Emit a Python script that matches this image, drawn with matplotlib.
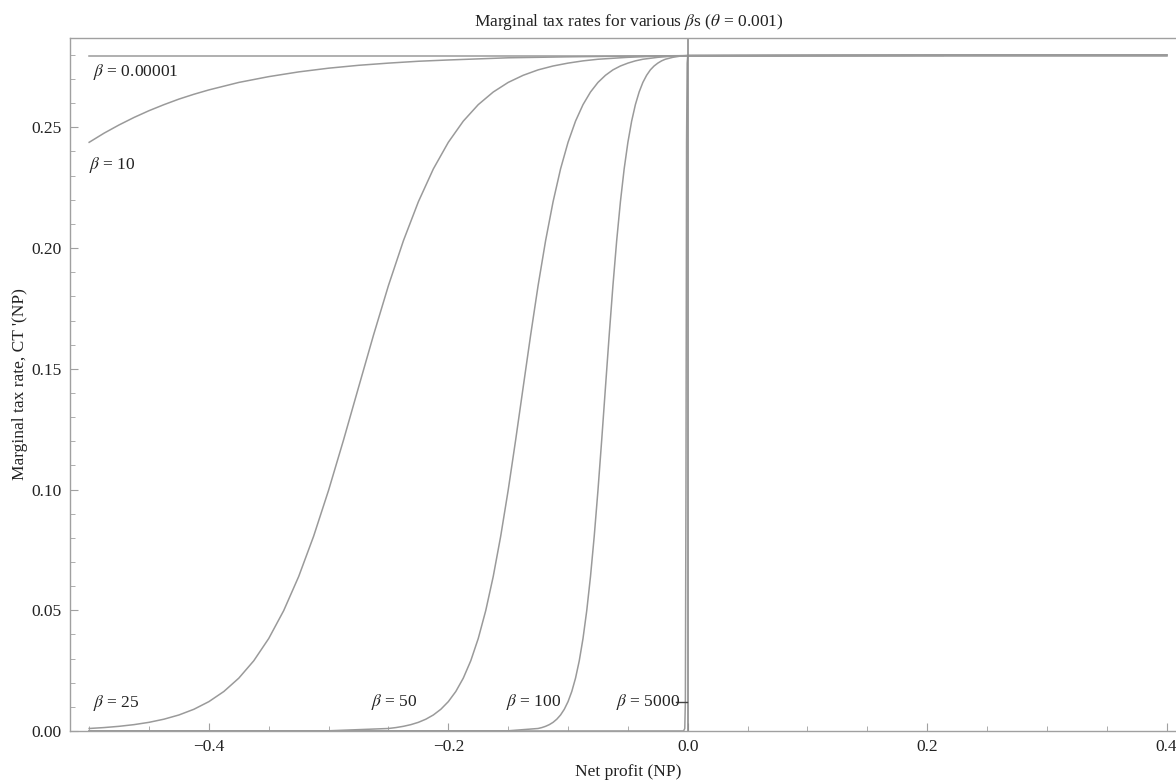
import matplotlib
matplotlib.use("Agg")
import matplotlib.pyplot as plt
from matplotlib.ticker import MultipleLocator, FuncFormatter

plt.rcParams['font.family'] = ['Liberation Serif', 'DejaVu Serif']
plt.rcParams['mathtext.fontset'] = 'stix'

# ---- data ----
labels = [r'$\beta$ = 0.00001', r'$\beta$ = 10', r'$\beta$ = 25',
          r'$\beta$ = 50', r'$\beta$ = 100', r'$\beta$ = 5000']

x_b00001 = [-0.5, 0.4]
y_b00001 = [0.2797, 0.2797]

x_b10 = [-0.5, -0.4875, -0.475, -0.4625, -0.45, -0.4375, -0.425, -0.4125, -0.4, -0.375, -0.35,
         -0.325, -0.3, -0.275, -0.25, -0.225, -0.2, -0.15, -0.1, -0.05, 0.0, 0.4]
y_b10 = [0.2438, 0.2476, 0.2510, 0.2541, 0.2569, 0.2594, 0.2617, 0.2637, 0.2655, 0.2686, 0.2710,
         0.27296, 0.2745, 0.27569, 0.2766, 0.27737, 0.2779, 0.2788, 0.2792, 0.2795, 0.2797, 0.2800]

x_b25 = [-0.5, -0.4875, -0.475, -0.4625, -0.45, -0.4375, -0.425, -0.4125, -0.4, -0.3875,
         -0.375, -0.3625, -0.35, -0.3375, -0.325, -0.3125, -0.3, -0.2875, -0.275, -0.2625,
         -0.25, -0.2375, -0.225, -0.2125, -0.2, -0.1875, -0.175, -0.1625, -0.15, -0.1375,
         -0.125, -0.1125, -0.1, -0.0875, -0.075, -0.05, -0.025, 0.0, 0.4]
y_b25 = [0.00104, 0.00142, 0.00194, 0.00264, 0.00359, 0.004895, 0.00664, 0.009003, 0.01216, 0.01636,
         0.02189, 0.02909, 0.03831, 0.04986, 0.06397, 0.08068, 0.09972, 0.12056, 0.1423, 0.16394,
         0.1845, 0.20306, 0.2192, 0.23279, 0.2438, 0.25257, 0.2594, 0.26462, 0.2686, 0.27155,
         0.2738, 0.27541, 0.2766, 0.27753, 0.2782, 0.2790, 0.2795, 0.2797, 0.2800]

x_b50 = [-0.5, -0.3, -0.25, -0.24375, -0.2375, -0.23125, -0.225, -0.21875, -0.2125, -0.20625,
         -0.2, -0.19375, -0.1875, -0.18125, -0.175, -0.16875, -0.1625, -0.15625, -0.15, -0.14375,
         -0.1375, -0.13125, -0.125, -0.11875, -0.1125, -0.10625, -0.1, -0.09375, -0.0875, -0.08125,
         -0.075, -0.06875, -0.0625, -0.05625, -0.05, -0.04375, -0.0375, -0.025, -0.0125, 0.0, 0.4]
y_b50 = [0.0, 0.00009, 0.00104, 0.00142, 0.00194, 0.00264, 0.00359, 0.004895, 0.00664, 0.009003,
         0.01216, 0.01636, 0.02189, 0.02909, 0.03831, 0.04986, 0.06397, 0.08068, 0.09972, 0.12056,
         0.1423, 0.16394, 0.1845, 0.20306, 0.2192, 0.23279, 0.2438, 0.25257, 0.2594, 0.26462,
         0.2686, 0.27155, 0.2738, 0.27541, 0.2766, 0.27753, 0.2782, 0.2790, 0.2795, 0.2797, 0.2800]

x_b100 = [-0.5, -0.15, -0.125, -0.121875, -0.11875, -0.115625, -0.1125, -0.109375, -0.10625, -0.103125,
          -0.1, -0.096875, -0.09375, -0.090625, -0.0875, -0.084375, -0.08125, -0.078125, -0.075, -0.071875,
          -0.06875, -0.065625, -0.0625, -0.059375, -0.05625, -0.053125, -0.05, -0.046875, -0.04375, -0.040625,
          -0.0375, -0.034375, -0.03125, -0.028125, -0.025, -0.021875, -0.01875, -0.0125, -0.00625, 0.0, 0.4]
y_b100 = [0.0, 0.00009, 0.00104, 0.00142, 0.00194, 0.00264, 0.00359, 0.004895, 0.00664, 0.009003,
          0.01216, 0.01636, 0.02189, 0.02909, 0.03831, 0.04986, 0.06397, 0.08068, 0.09972, 0.12056,
          0.1423, 0.16394, 0.1845, 0.20306, 0.2192, 0.23279, 0.2438, 0.25257, 0.2594, 0.26462,
          0.2686, 0.27155, 0.2738, 0.27541, 0.2766, 0.27753, 0.2782, 0.2790, 0.2795, 0.2797, 0.2800]

x_b5000 = [-0.5, -0.0035, -0.0025, -0.002, -0.0015, -0.001, -0.0005, 0.0, 0.4]
y_b5000 = [0.0, 0.00001, 0.00104, 0.01216, 0.0997, 0.2438, 0.2766, 0.2797, 0.2800]

xticks = [-0.4, -0.2, 0.0, 0.2, 0.4]
yticks = [0.00, 0.05, 0.10, 0.15, 0.20, 0.25]

# ---- drawing ----
W, H = 1176, 780
fig = plt.figure(figsize=(W / 100, H / 100), dpi=100)
L, R, T, B = 70, 1187, 38, 731
ax = fig.add_axes([L / W, 1 - B / H, (R - L) / W, (B - T) / H])

line_col = '#9a9a9a'
frame_col = '#a0a0a0'
text_col = '#222222'

series = [(x_b00001, y_b00001), (x_b10, y_b10), (x_b25, y_b25),
          (x_b50, y_b50), (x_b100, y_b100), (x_b5000, y_b5000)]
for xs, ys in series:
    ax.plot(xs, ys, color=line_col, lw=1.1, solid_joinstyle='round')

ax.axvline(0.0, color='#8c8c8c', lw=1.2)

ax.set_xlim(-0.516, 0.417)
ax.set_ylim(0.0, 0.287)

for side in ['left', 'top', 'bottom']:
    ax.spines[side].set_color(frame_col)
    ax.spines[side].set_linewidth(1.0)
ax.spines['right'].set_visible(False)

ax.set_xticks(xticks)
ax.set_yticks(yticks)
ax.xaxis.set_major_formatter(FuncFormatter(lambda v, p: ('%.1f' % v).replace('-', '\u2212')))
ax.yaxis.set_major_formatter(FuncFormatter(lambda v, p: ('%.2f' % v).replace('-', '\u2212')))
ax.xaxis.set_minor_locator(MultipleLocator(0.05))
ax.yaxis.set_minor_locator(MultipleLocator(0.01))
ax.tick_params(which='both', direction='in', color=frame_col, labelcolor=text_col,
               labelsize=12.5, top=False, right=False)
ax.tick_params(which='major', length=6, width=0.8, pad=6)
ax.tick_params(which='minor', length=3.5, width=0.6)

ax.set_title(r'Marginal tax rates for various $\beta$s ($\theta$ = 0.001)',
             fontsize=12.5, color=text_col, pad=9)
ax.set_xlabel('Net profit (NP)', fontsize=12.5, color=text_col, va='center')
ax.set_ylabel("Marginal tax rate, CT '(NP)", fontsize=12.5, color=text_col, va='center')
ax.xaxis.set_label_coords(0.5, -0.059)
ax.yaxis.set_label_coords(-0.045, 0.5)

lab_pos = [(-0.497, 0.2728), (-0.5, 0.2343), (-0.497, 0.0116),
           (-0.265, 0.012), (-0.152, 0.012), (-0.060, 0.012)]
for txt, (lx, ly) in zip(labels, lab_pos):
    ax.text(lx, ly, txt, fontsize=12.5, color=text_col, ha='left', va='center')
ax.plot([-0.0095, -0.0005], [0.012, 0.012], color='#444444', lw=1.0)

fig.savefig('out.png', dpi=100)
